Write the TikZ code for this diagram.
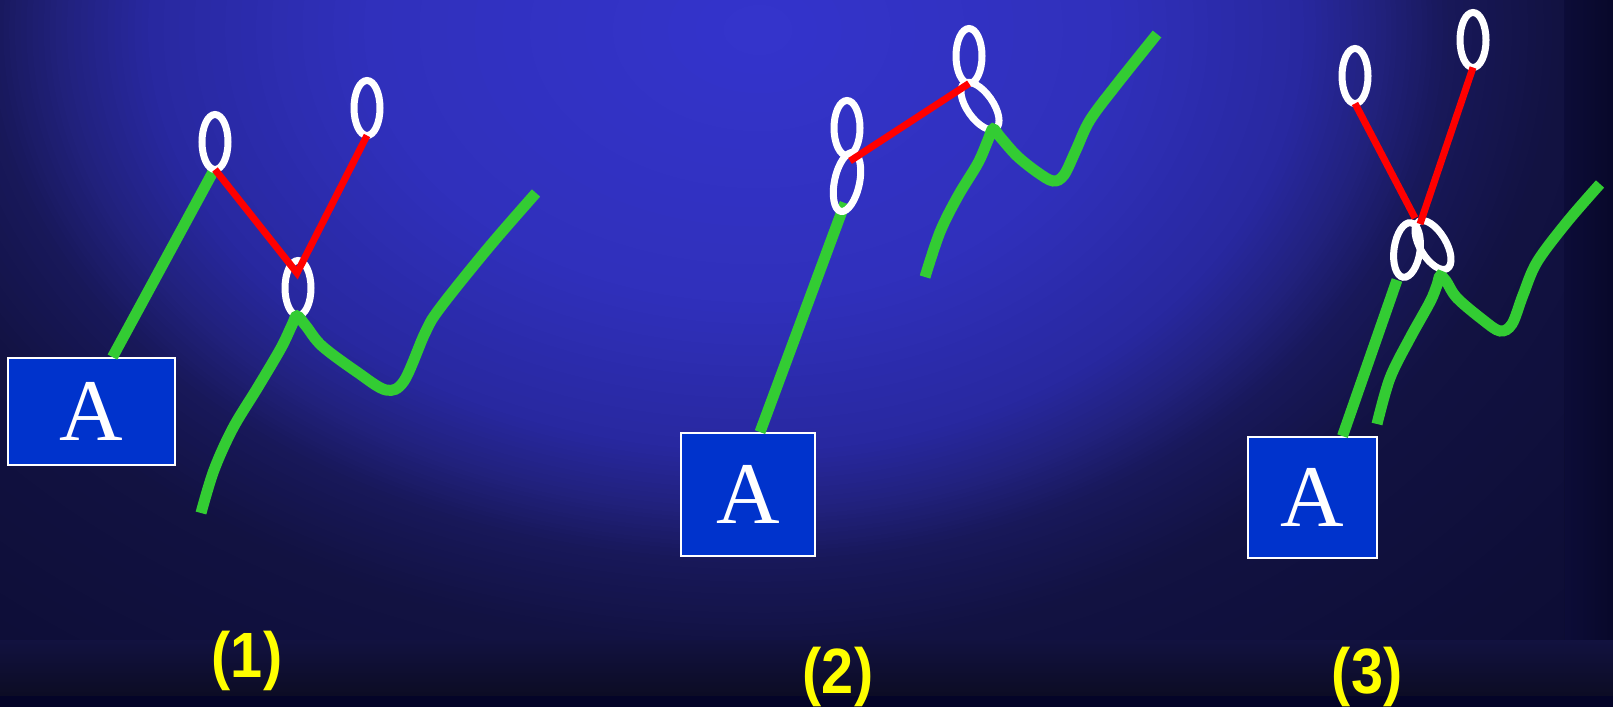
\documentclass[tikz,border=0pt]{standalone}
\usepackage{fontspec}
\setmainfont{Liberation Serif}
\newfontfamily\labfont{Liberation Sans}
\usetikzlibrary{shapes.geometric}
\definecolor{bgbase}{HTML}{0C0C2C}
\definecolor{sc0}{HTML}{3434CC}
\definecolor{sc1}{HTML}{3030BC}
\definecolor{sc2}{HTML}{2828A0}
\definecolor{sc3}{HTML}{222280}
\definecolor{sc4}{HTML}{18185A}
\definecolor{sc5}{HTML}{121242}
\definecolor{sc6}{HTML}{0E0E38}
\definecolor{sc7}{HTML}{0C0C30}
\definecolor{lowtop}{HTML}{121240}
\definecolor{lowbot}{HTML}{0C0C24}
\definecolor{stripl}{HTML}{0C0C38}
\definecolor{stripr}{HTML}{08082A}
\definecolor{band}{HTML}{040428}
\definecolor{boxblue}{HTML}{0033CC}
\definecolor{lgreen}{HTML}{33CC33}
\definecolor{lred}{HTML}{FF0000}
\definecolor{lyellow}{HTML}{FFFF00}
\newcommand\bgglow[1]{%
  \foreach \ca/\cb/\da/\db/\nn in {sc6/sc7/1.3/1.7/8, sc5/sc6/1.0/1.3/10, sc4/sc5/0.86/1.0/14,
      sc3/sc4/0.77/0.86/14, sc2/sc3/0.68/0.77/12, sc1/sc2/0.44/0.68/14,
      sc0/sc1/0.01/0.44/14} {
    \foreach \k in {1,...,\nn} {
      \pgfmathsetmacro\dd{\db-(\db-\da)*(\k-1)/\nn}
      \pgfmathsetmacro\pp{100*(\k-1)/\nn}
      \pgfmathsetmacro\rx{\dd*#1}
      \pgfmathsetmacro\ry{\dd*620}
      \fill[color={\ca!\pp!\cb}] (760,30) ellipse [x radius=\rx pt, y radius=\ry pt];
    }
  }}
\tikzset{
  abox/.style={rectangle, draw=white, line width=1.8pt, fill=boxblue, inner sep=0pt,
    text=white, font=\fontsize{88}{88}\selectfont},
  ring/.style={ellipse, draw=white, line width=7pt, minimum width=26pt,
    minimum height=55pt, inner sep=0pt, outer sep=0pt},
  bigring/.style={ring, minimum width=25pt, minimum height=60pt},
  gline/.style={draw=lgreen, line width=11pt},
  rline/.style={draw=lred, line width=7pt},
  lab/.style={text=lyellow, anchor=base, inner sep=0pt,
    font=\labfont\bfseries\fontsize{64}{64}\selectfont}
}
\begin{document}
\begin{tikzpicture}[x=1pt,y=-1pt]
\useasboundingbox (0,0) rectangle (1613,707);
% background
\fill[bgbase] (0,0) rectangle (1613,707);
\shade[top color=lowtop, bottom color=lowbot] (0,639) rectangle (1613,696);
\shade[left color=stripl, right color=stripr] (1564,0) rectangle (1613,639);
\begin{scope}
  \clip (0,0) rectangle (760,639);
  \fill[sc7] (0,0) rectangle (760,639);
  \bgglow{900}
\end{scope}
\begin{scope}
  \clip (760,0) rectangle (1564,639);
  \fill[sc7] (760,0) rectangle (1564,639);
  \bgglow{800}
\end{scope}
\fill[band] (0,696) rectangle (1613,707);

% boxes
\node[abox, minimum width=167pt, minimum height=107pt] (A1) at (91.5,411.5) {\raisebox{-3pt}{A}};
\node[abox, minimum width=134pt, minimum height=123pt] (A2) at (748,494.5) {\raisebox{-4pt}{A}};
\node[abox, minimum width=129pt, minimum height=121pt] (A3) at (1312.5,497.5) {\raisebox{-3pt}{A}};

% joints
\coordinate (v1) at (297,273);
\coordinate (g2) at (845,203);
\coordinate (r2) at (850,161);
\coordinate (g3) at (1397,280);
\coordinate (v3a) at (1415,218);
\coordinate (v3b) at (1420,224);

% green straight lines (under rings)
\draw[gline] ([xshift=21pt]A1.north) -- (214,170);
\draw[gline] ([xshift=12pt]A2.north) -- (g2);
\draw[gline] ([xshift=30pt]A3.north) -- (g3);

% rings
\node[ring] (e11) at (215,142) {};
\node[ring] (e12) at (367,108) {};
\node[ring] (e13) at (298,288) {};
\node[ring] (e21) at (847,128) {};
\node[bigring, rotate=-12] (e22) at (847,182) {};
\node[ring] (e23) at (969,56) {};
\node[ring, rotate=35] (e24) at (980,106) {};
\node[ring] (e31) at (1355,76) {};
\node[ring] (e32) at (1473,40) {};
\node[ring, rotate=-8] (e33) at (1407,250) {};
\node[ring, rotate=31] (e34) at (1433,245) {};

% green curves
\draw[gline] plot[smooth, tension=0.55] coordinates {(201,513) (214,470) (233,428) (258,387) (281,348) (292,325) (297,316) (306,326) (322,346) (357,372) (386,390) (404,381) (425,333) (440,308) (489,247) (536,193)};
\draw[gline] plot[smooth, tension=0.55] coordinates {(925,277) (940,232) (958,196) (978,163) (988,140) (993,129) (1001,138) (1017,156) (1037,172) (1053,181) (1064,175) (1076,150) (1090,120) (1117,84) (1157,34)};
\draw[gline] plot[smooth, tension=0.55] coordinates {(1377,424) (1390,378) (1410,338) (1430,302) (1437,285) (1440,276) (1446,281) (1457,298) (1483,320) (1500,331) (1512,324) (1523,295) (1537,262) (1567,222) (1600,184)};

% red links
\draw[rline] (e11.south) -- (v1) -- (e12.south);
\draw[rline] (r2) -- (e23.south);
\draw[rline] (e31.south) -- (v3a);
\draw[rline] (e32.south) -- (v3b);

% labels
\node[lab] (L1) at (247,677) {\scalebox{0.9}[1]{(1)}};
\node[lab] (L2) at (838,693) {\scalebox{0.9}[1]{(2)}};
\node[lab] (L3) at (1367,693) {\scalebox{0.9}[1]{(3)}};
\end{tikzpicture}
\end{document}
